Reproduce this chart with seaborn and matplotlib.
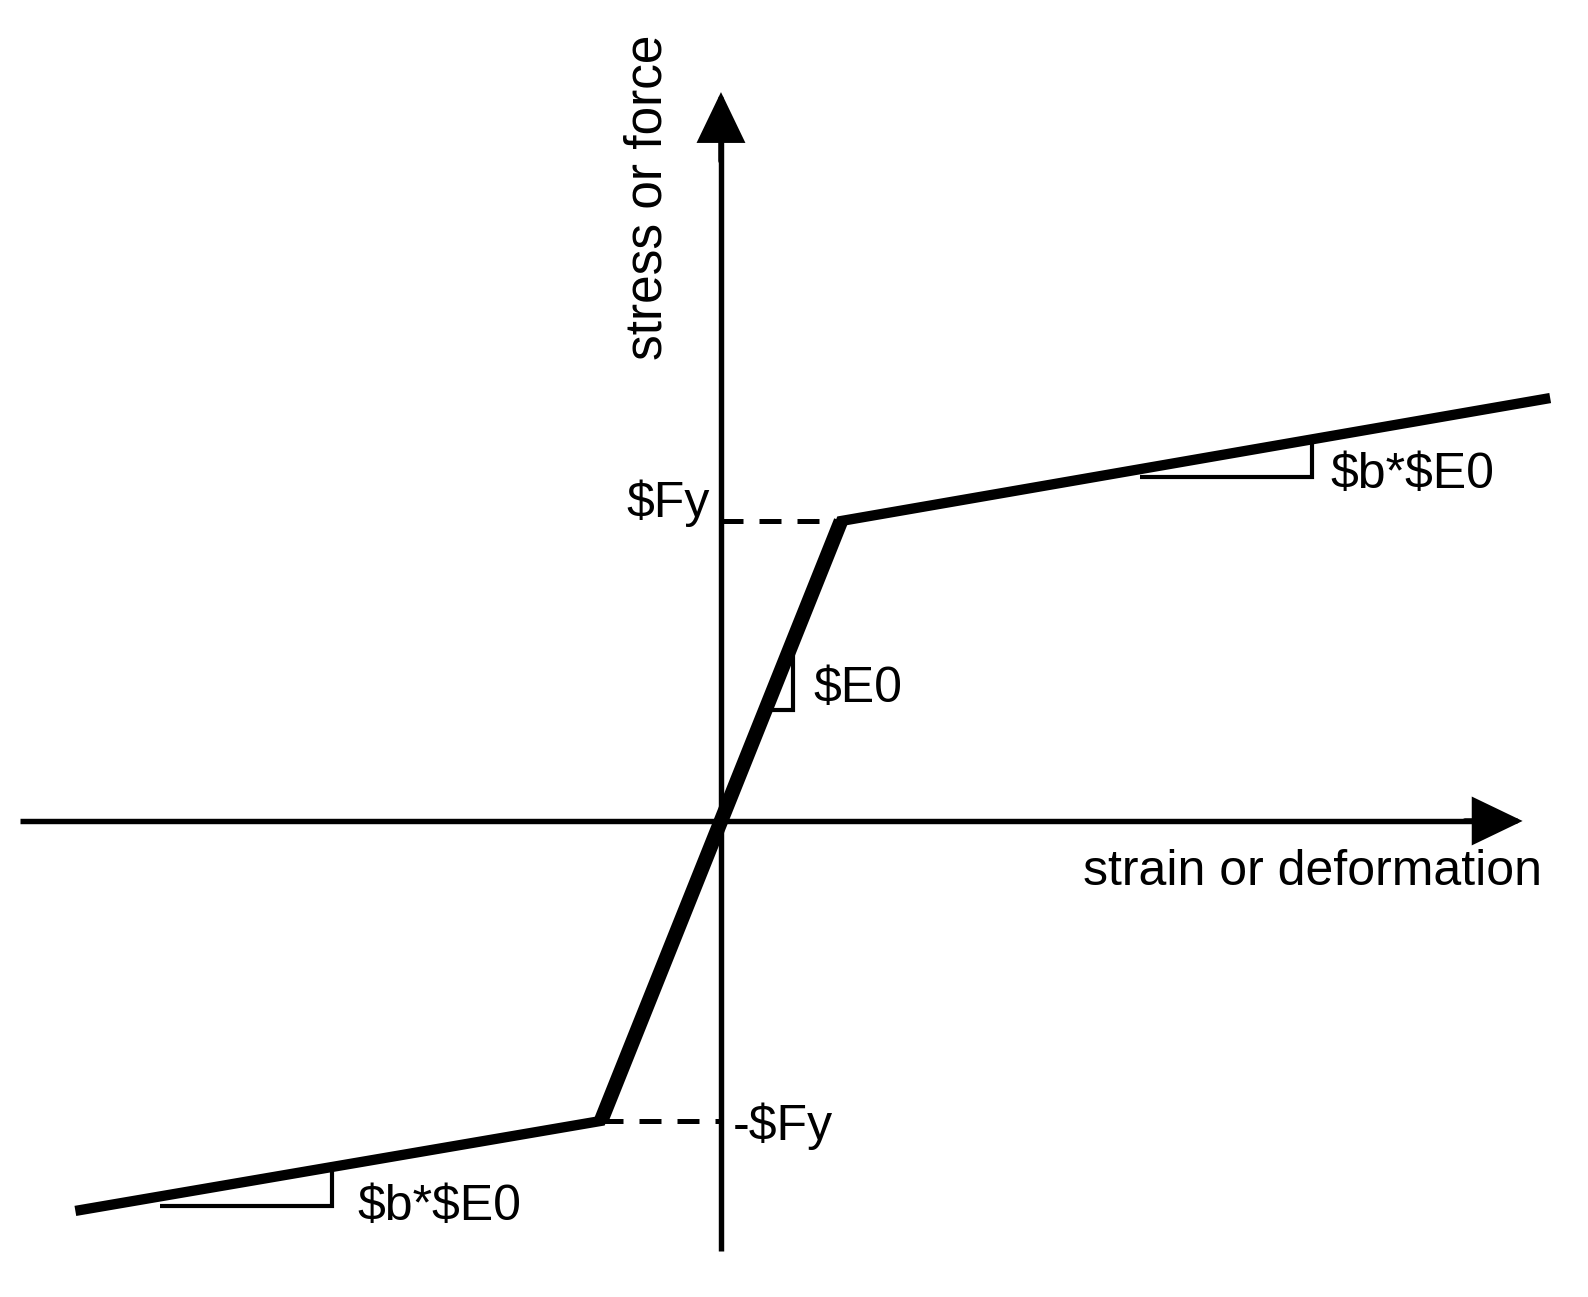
import numpy as np
import matplotlib
matplotlib.use("Agg")
import matplotlib.pyplot as plt
import seaborn as sns

# bilinear material: strain and stress (eps_y = 1, Fy = 1)
strain = [-5.38, -1.0, 0.0, 1.0, 6.91]
stress = [-1.30, -1.0, 0.0, 1.0, 1.41]
eps_y = 1.0
Fy = 1.0

# slope triangles: (x start, horizontal level, x of vertical leg, top of vertical leg)
tri_E0 = (0.37, 0.37, 0.60, 0.62)
tri_b_upper = (3.49, 1.147, 4.925, 1.27)
tri_b_lower = (-4.675, -1.283, -3.24, -1.15)

labels = {
    "Fy": "$Fy",
    "neg_Fy": "-$Fy",
    "E0": "$E0",
    "bE0": "$b*$E0",
    "xlabel": "strain or deformation",
    "ylabel": "stress or force",
}

sns.set_style("white")
plt.rcParams['font.family'] = ['Liberation Sans', 'DejaVu Sans']
plt.rcParams['text.parse_math'] = False
plt.rcParams['text.color'] = 'black'

fig = plt.figure(figsize=(15.88, 12.97), dpi=100)
ax = fig.add_axes([0, 0, 1, 1])
ax.set_xlim(-6.008, 7.225)
ax.set_ylim(-1.587, 2.737)
ax.set_axis_off()

# axes with arrow heads
axis_lw = 3.9
ax.plot([-5.84, 6.3], [0, 0], color="black", lw=axis_lw, solid_capstyle="butt")
ax.plot([0, 0], [-1.433, 2.3], color="black", lw=axis_lw, solid_capstyle="butt")
arrow = dict(arrowstyle="-|>,head_length=0.52,head_width=0.25", color="black",
             lw=axis_lw, shrinkA=0, shrinkB=0, mutation_scale=58,
             joinstyle="miter")
ax.annotate("", xy=(6.68, 0), xytext=(6.2, 0), arrowprops=arrow)
ax.annotate("", xy=(0, 2.43), xytext=(0, 2.2), arrowprops=arrow)

# dashed guide lines at +/- Fy
ax.plot([0, eps_y], [Fy, Fy], color="black", lw=3.6, dashes=(4.4, 3.2))
ax.plot([-eps_y, 0], [-Fy, -Fy], color="black", lw=3.6, dashes=(4.4, 3.2))

# slope triangles
for x0, level, xv, top in [tri_E0, tri_b_upper, tri_b_lower]:
    ax.plot([x0, xv, xv], [level, level, top], color="black", lw=3.0,
            solid_joinstyle="miter", solid_capstyle="butt")

# the material curve
sns.lineplot(x=strain, y=stress, sort=False, color="black", lw=7.4,
             solid_capstyle="butt", solid_joinstyle="miter", ax=ax)
sns.lineplot(x=strain[1:4], y=stress[1:4], sort=False, color="black", lw=10.5,
             solid_capstyle="butt", solid_joinstyle="miter", ax=ax)

fs = 36
ax.text(-0.092, 1.013, labels["Fy"], ha="right", va="baseline", fontsize=fs)
ax.text(0.10, -1.063, labels["neg_Fy"], ha="left", va="baseline", fontsize=fs)
ax.text(0.767, 0.397, labels["E0"], ha="left", va="baseline", fontsize=fs)
ax.text(5.075, 1.11, labels["bE0"], ha="left", va="baseline", fontsize=fs)
ax.text(-3.033, -1.33, labels["bE0"], ha="left", va="baseline", fontsize=fs)
ax.text(6.842, -0.213, labels["xlabel"], ha="right", va="baseline", fontsize=36)
ax.text(-0.608, 2.08, labels["ylabel"], ha="center", va="center",
        rotation=90, fontsize=37)

fig.savefig("out.png", dpi=100)
